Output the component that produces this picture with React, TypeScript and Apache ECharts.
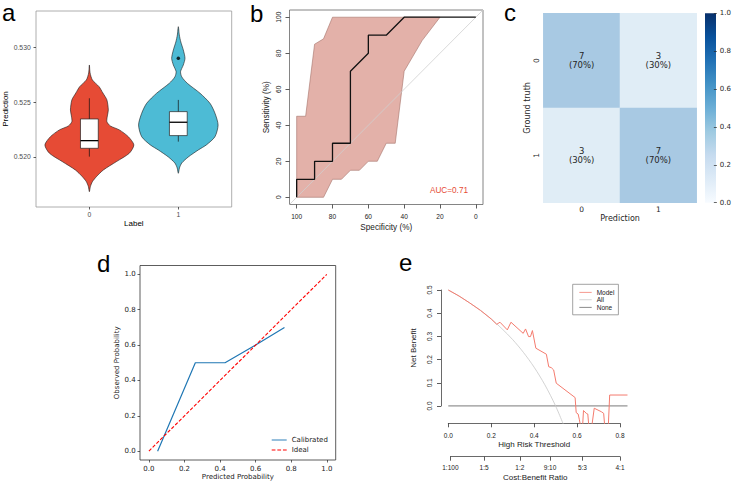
import React, { useEffect, useRef } from 'react';
import * as echarts from 'echarts';

// ---------- a: prediction distribution per label ----------
const labelGroups = ['0', '1'];
const violinColors = ['#E64B35', '#4DBBD5'];
// violin outline: [prediction, half width in category units], top to bottom
const violinLabel0 = [
  [0.5284, 0], [0.52767, 0.008], [0.52703, 0.034], [0.52642, 0.109], [0.52584, 0.152],
  [0.52521, 0.197], [0.52429, 0.213], [0.52374, 0.202], [0.52322, 0.197], [0.52283, 0.236],
  [0.52247, 0.337], [0.52185, 0.438], [0.5211, 0.5], [0.52034, 0.449], [0.51957, 0.303],
  [0.51881, 0.157], [0.5182, 0.079], [0.51774, 0.034], [0.51729, 0.011], [0.51683, 0],
];
const violinLabel1 = [
  [0.5319, 0], [0.53114, 0.011], [0.5305, 0.028], [0.52977, 0.056], [0.52901, 0.075],
  [0.5284, 0.056], [0.52779, 0.025], [0.52731, 0.039], [0.52673, 0.101], [0.52582, 0.244],
  [0.5249, 0.356], [0.52399, 0.412], [0.52292, 0.447], [0.52185, 0.412], [0.5211, 0.315],
  [0.52064, 0.225], [0.52, 0.112], [0.51945, 0.039], [0.519, 0.013], [0.51851, 0],
];
// [lower whisker, Q1, median, Q3, upper whisker]
const boxLabel0 = [0.52003, 0.52079, 0.52149, 0.52347, 0.52536];
const boxLabel1 = [0.5214, 0.52195, 0.52317, 0.52414, 0.52521];
const outlierPoints = [[1, 0.52901]];
const predictionTicks = [0.52, 0.525, 0.53];

// ---------- b: ROC curve with sensitivity confidence band ----------
const rocSpecificity = [100, 100, 90, 90, 80, 80, 70, 70, 60, 60, 50, 40, 0];
const rocSensitivity = [0, 10, 10, 20, 20, 30, 30, 70, 80, 90, 90, 100, 100];
const ciUpper = [[100, 0], [100, 45], [95, 45], [90, 85], [85, 88], [80, 100], [20, 100]];
const ciLower = [
  [20, 100], [30, 87], [40, 70], [45, 30], [50, 30], [55, 20], [60, 20], [65, 15],
  [70, 15], [75, 10], [80, 10], [85, 0], [100, 0],
];
const aucValue = 0.71;
const percentTicks = [0, 20, 40, 60, 80, 100];

// ---------- c: confusion matrix ----------
const truthLabels = ['0', '1'];
const predictionLabels = ['0', '1'];
const confusionCounts = [
  [7, 3],
  [3, 7],
];
const colorbarTicks = [0, 0.2, 0.4, 0.6, 0.8, 1.0];

// ---------- d: calibration ----------
const calPredicted = [0.049, 0.261, 0.428, 0.6, 0.762];
const calObserved = [0.0, 0.5, 0.5, 0.6, 0.7];
const idealEnds = [0, 1];
const probabilityTicks = [0, 0.2, 0.4, 0.6, 0.8, 1.0];

// ---------- e: decision curve ----------
const modelThreshold = [
  0, 0.05, 0.1, 0.15, 0.2, 0.2255, 0.241, 0.275, 0.292, 0.349, 0.36, 0.374, 0.383, 0.392,
  0.408, 0.457, 0.468, 0.48, 0.491, 0.503, 0.591, 0.596, 0.605, 0.611, 0.619, 0.625, 0.63,
  0.643, 0.65, 0.656, 0.667, 0.68, 0.713, 0.724, 0.73, 0.745, 0.752, 0.835,
];
const modelNetBenefit = [
  0.5, 0.474, 0.444, 0.412, 0.375, 0.352, 0.361, 0.328, 0.361, 0.313, 0.332, 0.299, 0.299,
  0.325, 0.249, 0.223, 0.169, 0.165, 0.155, 0.098, 0.036, -0.029, -0.035, -0.06, -0.1, -0.1,
  -0.02, -0.032, -0.035, -0.1, -0.1, -0.01, -0.025, -0.032, -0.1, -0.1, 0.047, 0.047,
];
const allThreshold = [0, 0.05, 0.1, 0.15, 0.2, 0.25, 0.3, 0.35, 0.4, 0.45, 0.5, 0.55];
const allNetBenefit = [0.5, 0.474, 0.444, 0.412, 0.375, 0.333, 0.286, 0.231, 0.167, 0.091, 0.0, -0.111];
const noneThreshold = [0, 0.835];
const noneNetBenefit = [0, 0];
const costBenefitLabels = ['1:100', '1:5', '1:2', '9:10', '5:3', '4:1'];

const R_FONT = 'Liberation Sans, Arial, sans-serif';
const MPL_FONT = 'DejaVu Sans, sans-serif';

const BLUES = ['#f7fbff', '#deebf7', '#c6dbef', '#9ecae1', '#6baed6', '#4292c6', '#2171b5', '#08519c', '#08306b'];

// legend glyphs: a solid stroke and a dashed stroke
const SOLID_ICON = 'path://M0,0h16v1h-16z';
const DASHED_ICON = 'path://M0,0h4v1h-4zM6,0h4v1h-4zM12,0h4v1h-4z';

function mixWithWhite(hex: string, keep: number) {
  const n = parseInt(hex.slice(1), 16);
  const ch = [(n >> 16) & 255, (n >> 8) & 255, n & 255].map((c) => Math.round(255 - (255 - c) * keep));
  return 'rgb(' + ch.join(',') + ')';
}

const zip = (xs: number[], ys: number[]) => xs.map((x, i) => [x, ys[i]]);

function ratioToThreshold(label: string) {
  const [a, b] = label.split(':').map(Number);
  return a / (a + b);
}

function buildOption() {
  const violins = [violinLabel0, violinLabel1];
  const boxes = [boxLabel0, boxLabel1];
  const ratioThresholds = costBenefitLabels.map(ratioToThreshold);

  const heatData: number[][] = [];
  confusionCounts.forEach((row, r) => {
    const total = row.reduce((s, v) => s + v, 0);
    row.forEach((count, c) => heatData.push([c, r, count / total, count]));
  });

  const rTick = (len: number) => ({ show: true, length: len, lineStyle: { color: '#333', width: 0.8 } });
  const rLabel = (size: number, extra: any = {}) => ({
    fontSize: size, color: '#222', fontFamily: R_FONT, ...extra,
  });
  const noLine = { show: false, onZero: false };
  const hidden = (gridIndex: number, min = 0, max = 1) => ({ gridIndex, type: 'value', show: false, min, max, axisLine: { onZero: false } });

  return {
    animation: false,
    backgroundColor: '#fff',
    grid: [
      { left: 36, top: 11, width: 195.7, height: 196, show: true, borderColor: '#9a9a9a', borderWidth: 0.8 },
      { left: 289.5, top: 10, width: 193.5, height: 194.5, show: true, borderColor: '#666', borderWidth: 0.8 },
      { left: 543.3, top: 13.3, width: 153.4, height: 189.4 },
      { left: 705, top: 13.3, width: 11, height: 189.4 },
      { left: 140, top: 265.5, width: 195.7, height: 194.5, show: true, borderColor: '#333', borderWidth: 0.8 },
      { left: 441, top: 284.9, width: 197, height: 138.4 },
      { left: 448.3, top: 422.3, width: 171.7, height: 1 },
      { left: 441, top: 290, width: 1, height: 116 },
      { left: 450.4, top: 455.7, width: 169.6, height: 1 },
    ],
    xAxis: [
      {
        gridIndex: 0, type: 'value', min: -0.6, max: 1.6,
        axisLine: noLine, splitLine: { show: false },
        axisTick: { ...rTick(2.5), customValues: [0, 1] },
        axisLabel: { customValues: [0, 1], margin: 3.5, formatter: (v: number) => labelGroups[Math.round(v)], ...rLabel(6.8, { color: '#4d4d4d' }) },
        name: 'Label', nameLocation: 'middle', nameGap: 12,
        nameTextStyle: { fontSize: 8, color: '#000', fontFamily: R_FONT },
      },
      {
        gridIndex: 1, type: 'value', min: -4, max: 104, inverse: true,
        axisLine: noLine, splitLine: { show: false },
        axisTick: { ...rTick(4), customValues: percentTicks },
        axisLabel: { customValues: percentTicks, margin: 8, ...rLabel(6.6) },
        name: 'Specificity (%)', nameLocation: 'middle', nameGap: 18.5,
        nameTextStyle: { fontSize: 8.2, color: '#222', fontFamily: R_FONT },
      },
      {
        gridIndex: 2, type: 'category', data: predictionLabels,
        axisLine: noLine, axisTick: { show: false }, splitLine: { show: false },
        axisLabel: { margin: 2.5, fontSize: 7.5, color: '#262626', fontFamily: MPL_FONT },
        name: 'Prediction', nameLocation: 'middle', nameGap: 11.5,
        nameTextStyle: { fontSize: 8, color: '#262626', fontFamily: MPL_FONT },
      },
      hidden(3),
      {
        gridIndex: 4, type: 'value', min: -0.05, max: 1.05,
        axisLine: noLine, splitLine: { show: false },
        axisTick: { show: true, length: 2.5, customValues: probabilityTicks, lineStyle: { color: '#222', width: 0.7 } },
        axisLabel: { customValues: probabilityTicks, margin: 5, formatter: (v: number) => v.toFixed(1), fontSize: 7, color: '#222', fontFamily: MPL_FONT },
        name: 'Predicted Probability', nameLocation: 'middle', nameGap: 13.8,
        nameTextStyle: { fontSize: 7, color: '#222', fontFamily: MPL_FONT },
      },
      hidden(5, -0.034, 0.884),
      {
        gridIndex: 6, type: 'value', min: 0, max: 0.8, interval: 0.2, position: 'bottom',
        axisLine: { show: true, onZero: false, lineStyle: { color: '#444', width: 0.8 } }, splitLine: { show: false },
        axisTick: rTick(4),
        axisLabel: { margin: 8.4, formatter: (v: number) => v.toFixed(1), ...rLabel(6.5) },
        name: 'High Risk Threshold', nameLocation: 'middle', nameGap: 16.7,
        nameTextStyle: { fontSize: 8, color: '#222', fontFamily: R_FONT },
      },
      hidden(7),
      {
        gridIndex: 8, type: 'value', min: ratioThresholds[0], max: ratioThresholds[ratioThresholds.length - 1], position: 'bottom',
        axisLine: { show: true, onZero: false, lineStyle: { color: '#444', width: 0.8 } }, splitLine: { show: false },
        axisTick: { ...rTick(4), customValues: ratioThresholds },
        axisLabel: {
          customValues: ratioThresholds, margin: 7.7,
          formatter: (v: number) => {
            let best = 0;
            ratioThresholds.forEach((t, i) => { if (Math.abs(t - v) < Math.abs(ratioThresholds[best] - v)) best = i; });
            return costBenefitLabels[best];
          },
          ...rLabel(6.5),
        },
        name: 'Cost:Benefit Ratio', nameLocation: 'middle', nameGap: 17,
        nameTextStyle: { fontSize: 8, color: '#222', fontFamily: R_FONT },
      },
    ],
    yAxis: [
      {
        gridIndex: 0, type: 'value', min: 0.51543, max: 0.53333,
        axisLine: noLine, splitLine: { show: false },
        axisTick: { ...rTick(2.5), customValues: predictionTicks },
        axisLabel: { customValues: predictionTicks, margin: 5.3, formatter: (v: number) => v.toFixed(3), ...rLabel(6.8, { color: '#4d4d4d' }) },
        name: 'Prediction', nameLocation: 'middle', nameGap: 26,
        nameTextStyle: { fontSize: 8, color: '#000', fontFamily: R_FONT },
      },
      {
        gridIndex: 1, type: 'value', min: -4, max: 104,
        axisLine: noLine, splitLine: { show: false },
        axisTick: { ...rTick(4), customValues: percentTicks },
        axisLabel: { customValues: percentTicks, margin: 8, rotate: 90, ...rLabel(6.6) },
        name: 'Sensitivity (%)', nameLocation: 'middle', nameGap: 18.7,
        nameTextStyle: { fontSize: 8.2, color: '#222', fontFamily: R_FONT },
      },
      {
        gridIndex: 2, type: 'category', data: truthLabels, inverse: true,
        axisLine: noLine, axisTick: { show: false }, splitLine: { show: false },
        axisLabel: { margin: 2.5, rotate: 90, fontSize: 7.5, color: '#262626', fontFamily: MPL_FONT },
        name: 'Ground truth', nameLocation: 'middle', nameGap: 11,
        nameTextStyle: { fontSize: 8, color: '#262626', fontFamily: MPL_FONT },
      },
      {
        gridIndex: 3, type: 'value', min: 0, max: 1, position: 'right',
        axisLine: noLine, splitLine: { show: false },
        axisTick: { show: true, length: 3, customValues: colorbarTicks, lineStyle: { color: '#262626', width: 0.7 } },
        axisLabel: { customValues: colorbarTicks, margin: 6, formatter: (v: number) => v.toFixed(1), fontSize: 7, color: '#262626', fontFamily: MPL_FONT },
      },
      {
        gridIndex: 4, type: 'value', min: -0.05, max: 1.05,
        axisLine: noLine, splitLine: { show: false },
        axisTick: { show: true, length: 2.5, customValues: probabilityTicks, lineStyle: { color: '#222', width: 0.7 } },
        axisLabel: { customValues: probabilityTicks, margin: 4.3, formatter: (v: number) => v.toFixed(1), fontSize: 7, color: '#222', fontFamily: MPL_FONT },
        name: 'Observed Probability', nameLocation: 'middle', nameGap: 18,
        nameTextStyle: { fontSize: 7, color: '#222', fontFamily: MPL_FONT },
      },
      hidden(5, -0.075, 0.522),
      hidden(6),
      {
        gridIndex: 7, type: 'value', min: 0, max: 0.5, interval: 0.1, position: 'left',
        axisLine: { show: true, onZero: false, lineStyle: { color: '#444', width: 0.8 } }, splitLine: { show: false },
        axisTick: rTick(4),
        axisLabel: { margin: 8.4, rotate: 90, formatter: (v: number) => v.toFixed(1), ...rLabel(6.5) },
        name: 'Net Benefit', nameLocation: 'middle', nameGap: 23.7,
        nameTextStyle: { fontSize: 8, color: '#222', fontFamily: R_FONT },
      },
      hidden(8),
    ],
    visualMap: {
      show: false, type: 'continuous', min: 0, max: 1, dimension: 2, seriesIndex: 5,
      inRange: { color: BLUES.map((c) => mixWithWhite(c, 0.42)) },
    },
    legend: [
      {
        orient: 'vertical', left: 271.7, top: 436.5, padding: 0,
        itemWidth: 15, itemHeight: 1.3, itemGap: 3,
        data: [{ name: 'Calibrated', icon: SOLID_ICON }, { name: 'Ideal', icon: DASHED_ICON }],
        textStyle: { fontSize: 7, color: '#222', fontFamily: MPL_FONT },
      },
      {
        orient: 'vertical', left: 572.7, top: 284.3, padding: [4.5, 4, 4, 6.6],
        borderColor: '#8a8a8a', borderWidth: 0.8,
        itemWidth: 12.4, itemHeight: 1, itemGap: 0.5,
        data: [
          { name: 'Model', icon: SOLID_ICON },
          { name: 'All', icon: SOLID_ICON },
          { name: 'None', icon: SOLID_ICON },
        ],
        textStyle: { fontSize: 6.5, color: '#222', fontFamily: R_FONT },
      },
    ],
    graphic: [
      ...[
        ['a', 2, 12], ['b', 250, 13], ['c', 504, 12], ['d', 97, 263], ['e', 399, 262],
      ].map(([t, x, y]) => ({
        type: 'text', x, y, silent: true,
        style: { text: t, fontSize: 24, fontFamily: R_FONT, fill: '#000', verticalAlign: 'middle' },
      })),
      {
        type: 'text', x: 449, y: 190.7, silent: true,
        style: { text: 'AUC=' + aucValue.toFixed(2), fontSize: 8.2, fontFamily: R_FONT, fill: '#E64B35', align: 'center', verticalAlign: 'middle' },
      },
      {
        type: 'rect', silent: true,
        shape: { x: 705, y: 13.3, width: 11, height: 189.4 },
        style: {
          fill: {
            type: 'linear', x: 0, y: 1, x2: 0, y2: 0,
            colorStops: BLUES.map((c, i) => ({ offset: i / (BLUES.length - 1), color: c })),
          },
        },
      },
    ],
    series: [
      {
        type: 'custom', xAxisIndex: 0, yAxisIndex: 0, silent: true,
        data: labelGroups.map((_, i) => [i, boxes[i][2]]),
        renderItem: (params: any, api: any) => {
          const i = params.dataIndex;
          const prof = violins[i];
          const right = prof.map(([v, w]) => api.coord([i + w, v]));
          const left = prof.slice(1, -1).reverse().map(([v, w]) => api.coord([i - w, v]));
          const [lo, q1, med, q3, hi] = boxes[i];
          const bw = 0.1;
          const top = api.coord([i, hi]);
          const bot = api.coord([i, lo]);
          const tl = api.coord([i - bw, q3]);
          const br = api.coord([i + bw, q1]);
          const ml = api.coord([i - bw, med]);
          const mr = api.coord([i + bw, med]);
          return {
            type: 'group',
            children: [
              { type: 'polygon', shape: { points: right.concat(left), smooth: 0.25 }, style: { fill: violinColors[i], stroke: '#1a1a1a', lineWidth: 0.6 } },
              { type: 'line', shape: { x1: top[0], y1: top[1], x2: bot[0], y2: bot[1] }, style: { stroke: '#111', lineWidth: 0.7 } },
              { type: 'rect', shape: { x: tl[0], y: tl[1], width: br[0] - tl[0], height: br[1] - tl[1] }, style: { fill: '#fff', stroke: '#222', lineWidth: 0.7 } },
              { type: 'line', shape: { x1: ml[0], y1: ml[1], x2: mr[0], y2: mr[1] }, style: { stroke: '#000', lineWidth: 1.3 } },
            ],
          };
        },
      },
      {
        type: 'scatter', xAxisIndex: 0, yAxisIndex: 0, silent: true,
        data: outlierPoints, symbolSize: 3.5, itemStyle: { color: '#000' },
      },
      {
        type: 'custom', xAxisIndex: 1, yAxisIndex: 1, silent: true,
        data: [ciUpper[0]],
        renderItem: (_params: any, api: any) => ({
          type: 'polygon',
          shape: { points: ciUpper.concat(ciLower.slice(1, -1)).map((p) => api.coord(p)) },
          style: { fill: '#E3B1A9', stroke: '#A5726A', lineWidth: 0.6 },
        }),
      },
      {
        type: 'line', xAxisIndex: 1, yAxisIndex: 1, silent: true, symbol: 'none',
        data: [[104, -4], [-4, 104]],
        lineStyle: { color: '#cfcfcf', width: 0.8 },
      },
      {
        type: 'line', xAxisIndex: 1, yAxisIndex: 1, silent: true, symbol: 'none',
        data: zip(rocSpecificity, rocSensitivity),
        lineStyle: { color: '#111', width: 1.3 },
      },
      {
        type: 'heatmap', xAxisIndex: 2, yAxisIndex: 2, silent: true,
        data: heatData,
        label: {
          show: true, fontSize: 8.5, lineHeight: 9.5, color: '#262626', fontFamily: MPL_FONT, align: 'center',
          formatter: (p: any) => p.value[3] + '\n(' + Math.round(p.value[2] * 100) + '%)',
        },
      },
      {
        name: 'Calibrated', type: 'line', xAxisIndex: 4, yAxisIndex: 4, silent: true, symbol: 'none',
        data: zip(calPredicted, calObserved),
        lineStyle: { color: '#1f77b4', width: 1.2 }, itemStyle: { color: '#1f77b4' },
      },
      {
        name: 'Ideal', type: 'line', xAxisIndex: 4, yAxisIndex: 4, silent: true, symbol: 'none',
        data: zip(idealEnds, idealEnds),
        lineStyle: { color: '#ff0000', width: 1.1, type: [3.5, 1.8] }, itemStyle: { color: '#ff0000' },
      },
      {
        name: 'None', type: 'line', xAxisIndex: 5, yAxisIndex: 5, silent: true, symbol: 'none',
        data: zip(noneThreshold, noneNetBenefit),
        lineStyle: { color: '#6a6a6a', width: 0.9 }, itemStyle: { color: '#6a6a6a' },
      },
      {
        name: 'All', type: 'line', xAxisIndex: 5, yAxisIndex: 5, silent: true, symbol: 'none', smooth: 0.3,
        data: zip(allThreshold, allNetBenefit),
        lineStyle: { color: '#c8c8c8', width: 0.8 }, itemStyle: { color: '#c8c8c8' },
      },
      {
        name: 'Model', type: 'line', xAxisIndex: 5, yAxisIndex: 5, silent: true, symbol: 'none',
        data: zip(modelThreshold, modelNetBenefit),
        lineStyle: { color: '#F47B6E', width: 1 }, itemStyle: { color: '#F47B6E' },
      },
    ],
  };
}

export default function App() {
  const ref = useRef<HTMLDivElement>(null);
  useEffect(() => {
    if (!ref.current) return;
    const chart = echarts.init(ref.current, null, { renderer: 'svg' });
    chart.setOption(buildOption() as any);
    return () => chart.dispose();
  }, []);
  return (
    <div
      ref={ref}
      style={{ position: 'fixed', left: 0, top: 0, width: 734, height: 484, background: '#fff' }}
    />
  );
}
